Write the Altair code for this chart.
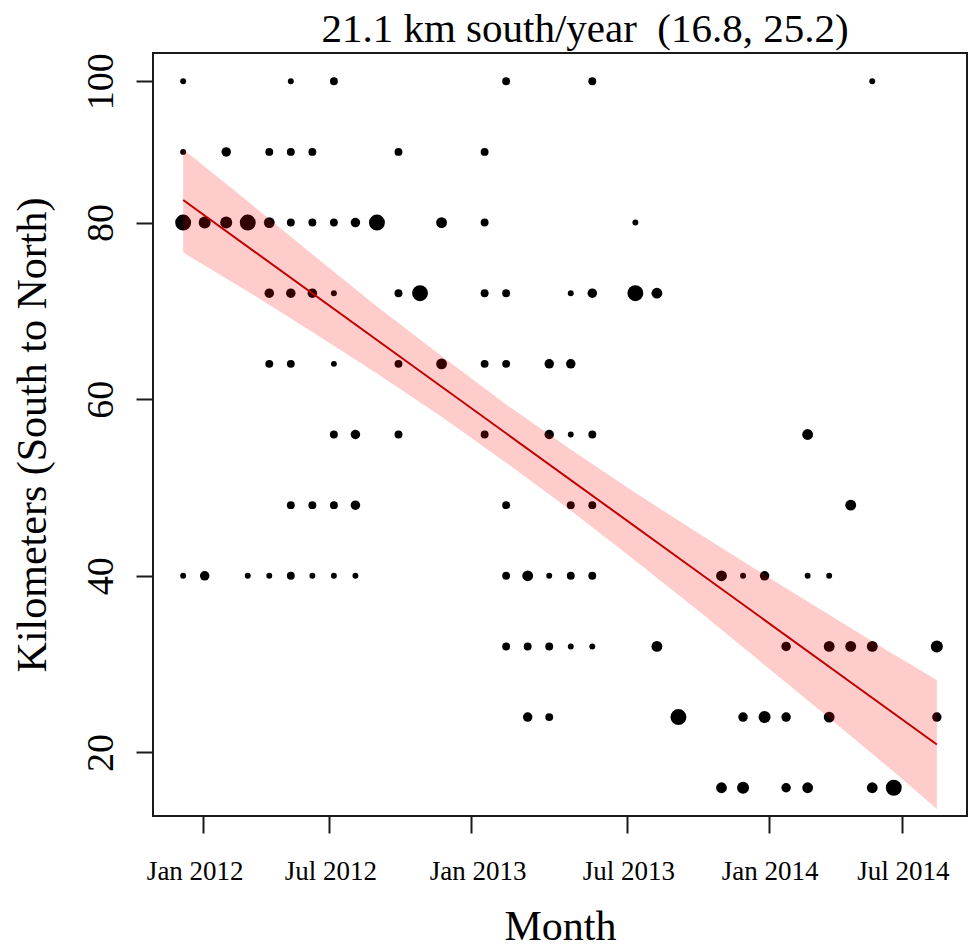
import altair as alt
import pandas as pd

FONT = "Liberation Serif"

# ---- data ----
# month index (0 = first sampled month), km position, relative count (point size)
pt_month = [0, 5, 7, 15, 19, 32,
            0, 2, 4, 5, 6, 10, 14,
            0, 1, 2, 3, 4, 5, 6, 7, 8, 9, 12, 14, 21,
            4, 5, 6, 7, 10, 11, 14, 15, 18, 19, 21, 22,
            4, 5, 7, 10, 12, 14, 15, 17, 18,
            7, 8, 10, 14, 17, 18, 19, 29,
            5, 6, 7, 8, 15, 18, 19, 31,
            0, 1, 3, 4, 5, 6, 7, 8, 15, 16, 17, 18, 19, 25, 26, 27, 29, 30,
            15, 16, 17, 18, 19, 22, 28, 30, 31, 32, 35,
            16, 17, 23, 26, 27, 28, 30, 35,
            25, 26, 28, 29, 32, 33]
pt_km = [96] * 6 + [88] * 7 + [80] * 13 + [72] * 12 + [64] * 9 + [56] * 8 + \
        [48] * 8 + [40] * 18 + [32] * 11 + [24] * 8 + [16] * 6
pt_n = [1, 1, 2, 2, 2, 1,
        1, 3, 2, 2, 2, 2, 2,
        9, 5, 5, 9, 4, 2, 2, 2, 3, 9, 4, 2, 1,
        3, 3, 3, 1, 2, 9, 2, 2, 1, 3, 9, 4,
        2, 2, 1, 2, 4, 2, 2, 3, 3,
        2, 3, 2, 2, 3, 1, 2, 4,
        2, 2, 2, 3, 2, 2, 2, 4,
        1, 3, 1, 1, 2, 1, 1, 1, 2, 4, 1, 2, 2, 4, 1, 3, 1, 1,
        2, 2, 2, 1, 1, 4, 3, 4, 4, 4, 5,
        3, 2, 9, 3, 5, 3, 4, 3,
        4, 5, 3, 4, 4, 9]

fit_month = [0, 35]
fit_km = [82.55, 20.9]

band_month = [0, 3, 6, 9, 12, 15, 18, 21, 24, 27, 30, 33, 35]
band_low = [76.6, 72.2, 67.6, 62.9, 58.0, 52.8, 47.4, 41.7, 35.9, 29.9, 23.9, 17.8, 13.6]
band_high = [88.3, 82.4, 76.4, 70.5, 64.9, 59.4, 54.3, 49.4, 44.7, 40.1, 35.6, 31.1, 28.2]

x_tick_pos = [0.91, 6.79, 13.35, 20.63, 27.19, 33.37]
x_tick_labels = ["Jan 2012", "Jul 2012", "Jan 2013", "Jul 2013", "Jan 2014", "Jul 2014"]
y_tick_pos = [20, 40, 60, 80, 96]
y_tick_labels = ["20", "40", "60", "80", "100"]

title_text = "21.1 km south/year \u00a0(16.8, 25.2)"


def label_expr(vals, labels):
    expr = "''"
    for v, l in reversed(list(zip(vals, labels))):
        expr = f"datum.value == {v} ? '{l}' : ({expr})"
    return expr


points = pd.DataFrame({"month": pt_month, "km": pt_km, "n": pt_n})
fit = pd.DataFrame({"month": fit_month, "km": fit_km})
band = pd.DataFrame({"month": band_month, "low": band_low, "high": band_high})

x_scale = alt.Scale(domain=[-1.4, 36.4], nice=False, zero=False)
y_scale = alt.Scale(domain=[12.8, 99.2], nice=False, zero=False)

x_axis = alt.Axis(
    values=x_tick_pos, labelExpr=label_expr(x_tick_pos, x_tick_labels),
    title="Month", grid=False, domain=False,
    tickSize=17, tickWidth=2, tickColor="#1a1a1a",
    labelFont=FONT, labelFontSize=27, labelColor="black",
    labelBaseline="alphabetic", labelPadding=46, labelFlush=False, labelOverlap=False,
    labelOffset={"condition": [{"test": f"datum.value == {x_tick_pos[0]}", "value": -8},
                               {"test": f"datum.value == {x_tick_pos[2]}", "value": 7}],
                 "value": 1},
    titleFont=FONT, titleFontSize=42, titleFontWeight="normal", titleColor="black",
    titleBaseline="alphabetic", titleY=123, titleX=407, titleAlign="center",
)
y_axis = alt.Axis(
    values=y_tick_pos, labelExpr=label_expr(y_tick_pos, y_tick_labels),
    title="Kilometers (South to North)", grid=False, domain=False,
    tickSize=17, tickWidth=2, tickColor="#1a1a1a",
    labelFont=FONT, labelFontSize=38, labelColor="black",
    labelAngle=270, labelAlign="center", labelBaseline="alphabetic",
    labelPadding=24, labelFlush=False, labelOverlap=False,
    titleFont=FONT, titleFontSize=42, titleFontWeight="normal", titleColor="black",
    titleAngle=270, titleBaseline="alphabetic", titleAlign="center",
    titleX=-108, titleY=381.5,
)

pts = alt.Chart(points).mark_circle(color="black", opacity=1).encode(
    x=alt.X("month:Q", scale=x_scale, axis=x_axis),
    y=alt.Y("km:Q", scale=y_scale, axis=y_axis),
    size=alt.Size("n:Q", scale=alt.Scale(domain=[1, 9], range=[35, 254], zero=False),
                  legend=None),
)

band_layer = alt.Chart(band).mark_area(color="#ff0000", opacity=0.2).encode(
    x=alt.X("month:Q", scale=x_scale, axis=x_axis),
    y=alt.Y("low:Q", scale=y_scale, axis=y_axis),
    y2="high:Q",
)

line_layer = alt.Chart(fit).mark_line(color="#c00000", strokeWidth=2).encode(
    x=alt.X("month:Q", scale=x_scale, axis=x_axis),
    y=alt.Y("km:Q", scale=y_scale, axis=y_axis),
)

chart = alt.layer(pts, band_layer, line_layer).properties(
    width=814, height=763,
    title=alt.TitleParams(
        title_text, font=FONT, fontSize=41, fontWeight="normal", color="black",
        anchor="middle", frame="group", baseline="alphabetic", offset=11, dx=25, dy=41,
    ),
    autosize=alt.AutoSizeParams(type="none"),
    padding={"left": 153, "top": 53, "right": 2, "bottom": 133},
    background="white",
).configure_view(stroke="#1a1a1a", strokeWidth=2)

chart.save("out.html", embed_options={"renderer": "svg", "actions": False})
